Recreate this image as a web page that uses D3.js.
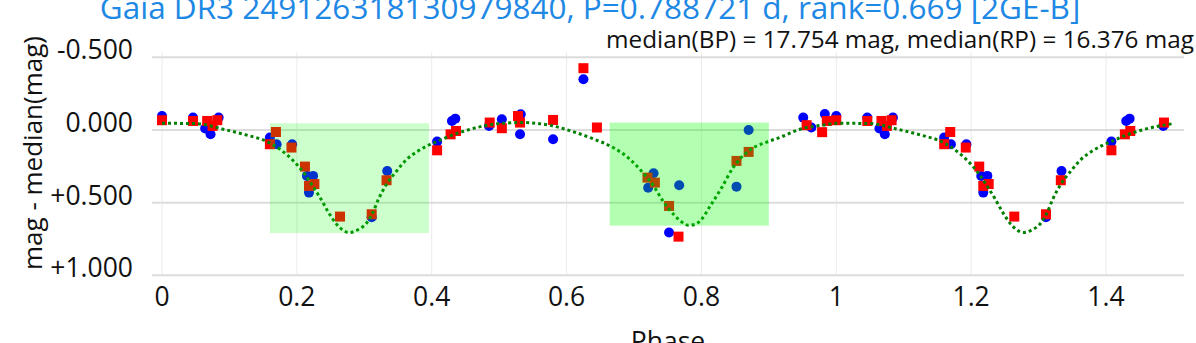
<!DOCTYPE html>
<html>
<head>
<meta charset="utf-8">
<script src="https://cdn.jsdelivr.net/npm/d3@7"></script>
<style>
  html, body { margin: 0; padding: 0; background: #fff; }
  svg { display: block; font-family: "Open Sans", sans-serif; }
</style>
</head>
<body>
<div id="chart"></div>
<script>
// one folded period; entries with phase <= 0.5 are repeated at phase + 1
const bpPhase = [0.000, 0.046, 0.064, 0.072, 0.084, 0.160, 0.170, 0.193, 0.215, 0.224, 0.218, 0.311, 0.334,
  0.408, 0.430, 0.435, 0.485, 0.504, 0.532, 0.531, 0.580, 0.625, 0.729, 0.721, 0.767, 0.752, 0.870, 0.852,
  0.951, 0.963, 0.983];
const bpMag = [-0.096, -0.085, -0.010, 0.030, -0.085, 0.052, 0.098, 0.098, 0.316, 0.316, 0.431, 0.600, 0.282,
  0.080, -0.062, -0.078, -0.028, -0.074, -0.108, 0.030, 0.064, -0.349, 0.298, 0.397, 0.380, 0.706, 0.000, 0.390,
  -0.085, -0.017, -0.110];

const rpPhase = [0.000, 0.046, 0.067, 0.075, 0.082, 0.160, 0.169, 0.192, 0.212, 0.218, 0.226, 0.264, 0.311,
  0.333, 0.408, 0.428, 0.436, 0.486, 0.504, 0.528, 0.531, 0.580, 0.625, 0.645, 0.720, 0.731, 0.752, 0.766,
  0.852, 0.870, 0.956, 0.979, 0.986];
const rpMag = [-0.067, -0.062, -0.062, -0.028, -0.067, 0.098, 0.014, 0.121, 0.252, 0.385, 0.372, 0.596, 0.580,
  0.346, 0.140, 0.030, 0.007, -0.051, -0.012, -0.096, -0.051, -0.069, -0.425, -0.017, 0.328, 0.362, 0.523, 0.734,
  0.213, 0.151, -0.033, 0.015, -0.062];

// model curve
const modelPhase = [0.000, 0.050, 0.090, 0.130, 0.150, 0.175, 0.195, 0.210, 0.225, 0.235, 0.247, 0.259, 0.268,
  0.277, 0.290, 0.304, 0.312, 0.321, 0.333, 0.348, 0.363, 0.378, 0.393, 0.410, 0.427, 0.452, 0.500, 0.536,
  0.575, 0.610, 0.640, 0.669, 0.694, 0.711, 0.729, 0.743, 0.761, 0.772, 0.781, 0.790, 0.798, 0.813, 0.830,
  0.847, 0.870, 0.897, 0.917, 0.946, 0.981, 1.000];
const modelMag = [-0.046, -0.044, -0.006, 0.041, 0.068, 0.133, 0.213, 0.293, 0.396, 0.470, 0.568, 0.649, 0.688,
  0.706, 0.688, 0.637, 0.575, 0.477, 0.374, 0.282, 0.202, 0.150, 0.110, 0.075, 0.041, 0.002, -0.044, -0.051,
  -0.032, 0.012, 0.062, 0.121, 0.202, 0.282, 0.385, 0.489, 0.592, 0.637, 0.656, 0.650, 0.626, 0.523, 0.397,
  0.259, 0.144, 0.083, 0.050, -0.005, -0.034, -0.046];

// eclipse windows
const winStart = [0.160, 0.664];
const winEnd = [0.396, 0.900];
const winTop = [-0.046, -0.051];
const winBottom = [0.709, 0.658];
const winOpacity = [0.2, 0.3];

const xTicks = [0, 0.2, 0.4, 0.6, 0.8, 1, 1.2, 1.4];
const xTickLabels = ["0", "0.2", "0.4", "0.6", "0.8", "1", "1.2", "1.4"];
const yTicks = [-0.5, 0, 0.5, 1.0];
const yTickLabels = ["-0.500", "0.000", "+0.500", "+1.000"];

const titleText = "Gaia DR3 249126318130979840, P=0.788721 d, rank=0.669 [2GE-B]";
const subText = "median(BP) = 17.754 mag, median(RP) = 16.376 mag";

const width = 1196;
const height = 343;
const plot = {left: 152, right: 1184, top: 52, bottom: 275};

const svg = d3.select("#chart")
  .append("svg")
  .attr("width", width)
  .attr("height", height);

const x = d3.scaleLinear()
  .domain([0, 1.4])
  .range([162, 1106]);

const y = d3.scaleLinear()
  .domain([-0.5, 1.0])
  .range([57.3, 275.3]);

function fold(phases, mags) {
  const pts = phases.map((p, i) => ({p: p, m: mags[i]}));
  phases.forEach((p, i) => {
    if (p <= 0.5) pts.push({p: p + 1, m: mags[i]});
  });
  return pts;
}

const bp = fold(bpPhase, bpMag);
const rp = fold(rpPhase, rpMag);
const model = fold(modelPhase, modelMag)
  .filter(d => d.p <= 1.5)
  .sort((a, b) => a.p - b.p)
  .filter((d, i, arr) => i === 0 || d.p !== arr[i - 1].p);

// grid
svg.append("g")
  .selectAll("line")
  .data(xTicks)
  .enter()
  .append("line")
  .attr("x1", d => x(d)).attr("x2", d => x(d))
  .attr("y1", plot.top).attr("y2", plot.bottom)
  .attr("stroke", "#ebebeb")
  .attr("stroke-width", 1);

svg.append("g")
  .selectAll("line")
  .data(yTicks)
  .enter()
  .append("line")
  .attr("x1", plot.left).attr("x2", plot.right)
  .attr("y1", d => y(d)).attr("y2", d => y(d))
  .attr("stroke", "#dcdcdc")
  .attr("stroke-width", 2);

// tick labels
svg.append("g")
  .selectAll("text")
  .data(yTicks)
  .enter()
  .append("text")
  .attr("x", 133)
  .attr("y", d => y(d) + 2)
  .attr("text-anchor", "end")
  .attr("font-size", 26.5)
  .attr("fill", "#111")
  .text((d, i) => yTickLabels[i]);

svg.append("g")
  .selectAll("text")
  .data(xTicks)
  .enter()
  .append("text")
  .attr("x", d => x(d))
  .attr("y", 306)
  .attr("text-anchor", "middle")
  .attr("font-size", 26.5)
  .attr("fill", "#111")
  .text((d, i) => xTickLabels[i]);

// markers
svg.append("g")
  .selectAll("circle")
  .data(bp)
  .enter()
  .append("circle")
  .attr("cx", d => x(d.p))
  .attr("cy", d => y(d.m))
  .attr("r", 5)
  .attr("fill", "#0000ff");

svg.append("g")
  .selectAll("rect")
  .data(rp)
  .enter()
  .append("rect")
  .attr("x", d => x(d.p) - 5)
  .attr("y", d => y(d.m) - 5)
  .attr("width", 10)
  .attr("height", 10)
  .attr("fill", "#ff0000");

// model
const line = d3.line()
  .x(d => x(d.p))
  .y(d => y(d.m))
  .curve(d3.curveMonotoneX);

svg.append("path")
  .datum(model)
  .attr("d", line)
  .attr("fill", "none")
  .attr("stroke", "#008000")
  .attr("stroke-width", 3)
  .attr("stroke-dasharray", "3,3");

// eclipse windows drawn above the traces
svg.append("g")
  .selectAll("rect")
  .data(winStart)
  .enter()
  .append("rect")
  .attr("x", (d, i) => x(d))
  .attr("y", (d, i) => y(winTop[i]))
  .attr("width", (d, i) => x(winEnd[i]) - x(d))
  .attr("height", (d, i) => y(winBottom[i]) - y(winTop[i]))
  .attr("fill", "#00ff00")
  .attr("fill-opacity", (d, i) => winOpacity[i]);

// titles
svg.append("text")
  .attr("x", 590)
  .attr("y", 19)
  .attr("text-anchor", "middle")
  .attr("font-size", 31.5)
  .attr("fill", "#1e88e5")
  .text(titleText);

svg.append("text")
  .attr("x", 1194)
  .attr("y", 48)
  .attr("text-anchor", "end")
  .attr("font-size", 24.3)
  .attr("fill", "#111")
  .text(subText);

svg.append("text")
  .attr("transform", "translate(42,153) rotate(-90)")
  .attr("text-anchor", "middle")
  .attr("font-size", 26)
  .attr("fill", "#111")
  .text("mag - median(mag)");

svg.append("text")
  .attr("x", 668)
  .attr("y", 351)
  .attr("text-anchor", "middle")
  .attr("font-size", 26.5)
  .attr("fill", "#111")
  .text("Phase");
</script>
</body>
</html>
